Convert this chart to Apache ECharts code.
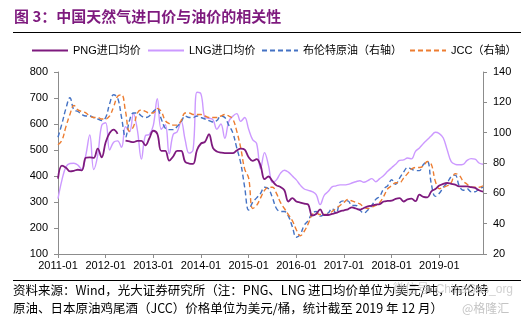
<!DOCTYPE html>
<html>
<head>
<meta charset="utf-8">
<script src="https://cdn.jsdelivr.net/npm/echarts@6/dist/echarts.min.js"></script>
<style>
html,body{margin:0;padding:0;background:#fff;}
#c{width:524px;height:324px;}
</style>
</head>
<body>
<div id="c"></div>
<script>
// ---- data ----
var titleText = '图 3：中国天然气进口价与油价的相关性';
var seriesNames = ['PNG进口均价', 'LNG进口均价', '布伦特原油（右轴）', 'JCC（右轴）'];
var startYear = 2011, endYear = 2019;
var categories = [];
for (var y = startYear; y <= endYear; y++) {
  for (var m = 1; m <= 12; m++) categories.push(y + '-' + (m < 10 ? '0' + m : m));
}
var leftTicks = [100, 200, 300, 400, 500, 600, 700, 800];
var rightTicks = [20, 40, 60, 80, 100, 120, 140];

// PNG import price (USD/t), 2011-01 .. 2019-12
var png = [
  390,440,432,418,420,424,422,470,472,470,505,472,
  530,565,578,562,null,536,533,530,535,535,518,545,
  574,562,497,497,459,475,497,497,455,448,447,500,
  525,531,561,508,494,490,488,488,488,498,505,501,
  472,458,465,440,388,398,380,364,358,345,302,315,
  302,298,294,290,248,254,272,250,250,254,258,264,
  268,272,279,275,270,277,283,286,290,292,302,304,
  305,312,315,302,310,313,303,328,320,318,341,350,
  363,370,373,370,367,360,360,360,357,354,345,340
];
// LNG import price (USD/t)
var lng = [
  313,385,435,448,449,442,425,480,558,425,480,595,
  605,500,530,535,510,590,570,640,575,465,555,560,
  595,697,580,597,485,560,570,610,540,488,500,722,
  715,625,622,617,580,600,545,610,630,640,610,625,
  580,540,525,428,490,440,375,385,410,422,415,400,
  385,365,350,345,340,328,290,325,340,358,362,366,
  366,368,373,378,382,376,382,390,378,390,402,418,
  432,445,460,462,469,466,495,508,525,540,555,568,
  563,546,500,455,445,443,445,460,467,465,450,445
];
// Brent (USD/bbl, right axis)
var brent = [
  97,106,116,123,115,114,112,111,111,110,109,108,
  110,119,125,123,110,97,108,113,113,111,110,111,
  114,116,109,103,102,102,104,107,111,110,110,111,
  110,109,108,107,108,111,110,105,100,90,80,64,
  49,54,57,60,64,63,57,50,48,48,45,38,
  31,33,39,42,47,48,45,46,47,50,47,54,
  55,55,52,52,49,47,49,52,56,58,63,65,
  69,66,70,74,77,76,75,75,79,81,66,58,
  60,64,67,71,72,65,62,63,61,61,63,64
];
// JCC (USD/bbl, right axis)
var jcc = [
  92,95,104,112,118,115,114,113,111,110,110,109,
  109,111,117,124,125,114,101,104,113,115,114,113,
  113,116,114,108,106,105,105,108,113,113,112,112,
  112,111,110,110,110,111,112,111,109,101,90,76,
  70,50,52,57,62,64,64,60,54,50,46,42,
  36,32,35,40,46,47,46,46,46,48,50,52,
  54,56,55,54,53,51,50,51,52,54,58,63,
  65,67,67,70,73,76,77,77,78,81,79,68,
  63,64,65,67,73,72,68,66,64,64,64,65
];
var colors = ['#7E1A7E', '#CC99FF', '#4472C4', '#ED7D31'];
var note1 = '资料来源：Wind，光大证券研究所（注：PNG、LNG 进口均价单位为美元/吨，布伦特';
var note2 = '原油、日本原油鸡尾酒（JCC）价格单位为美元/桶，统计截至 2019 年 12 月）';

// ---- chart ----
var FONT = '"Liberation Sans", Arial, "Noto Sans CJK SC", sans-serif';
var chart = echarts.init(document.getElementById('c'), null, {renderer: 'canvas'});
var axisGray = '#8C8C8C';
var legendLefts = [26, 142, 256, 404];
function mkLegend(i) {
  return {
    left: legendLefts[i], top: 40, itemWidth: 36, itemHeight: 10, itemGap: 8,
    itemStyle: {opacity: 0, borderWidth: 0},
    textStyle: {fontSize: 11, color: '#000', fontFamily: FONT},
    data: [seriesNames[i]]
  };
}
var option = {
  animation: false,
  backgroundColor: '#fff',
  textStyle: {fontFamily: FONT},
  grid: {left: 58, right: 41, top: 72, bottom: 70, containLabel: false},
  legend: [mkLegend(0), mkLegend(1), mkLegend(2), mkLegend(3)],
  xAxis: {
    type: 'category', data: categories, boundaryGap: false,
    axisLine: {lineStyle: {color: axisGray, width: 1}},
    axisTick: {interval: 11, length: 4, lineStyle: {color: axisGray}},
    axisLabel: {interval: 11, fontSize: 11, color: '#000', margin: 6, fontFamily: FONT},
    splitLine: {show: false}
  },
  yAxis: [{
    type: 'value', min: leftTicks[0], max: leftTicks[leftTicks.length - 1], interval: 100,
    axisLine: {show: true, lineStyle: {color: axisGray}},
    axisTick: {show: true, length: 4, lineStyle: {color: axisGray}},
    axisLabel: {fontSize: 11, color: '#000', margin: 10, fontFamily: FONT},
    splitLine: {show: false}
  }, {
    type: 'value', min: rightTicks[0], max: rightTicks[rightTicks.length - 1], interval: 20,
    position: 'right',
    axisLine: {show: true, lineStyle: {color: axisGray}},
    axisTick: {show: true, length: 4, lineStyle: {color: axisGray}},
    axisLabel: {fontSize: 11, color: '#000', margin: 10, fontFamily: FONT},
    splitLine: {show: false}
  }],
  series: [
    {name: seriesNames[0], type: 'line', data: png, yAxisIndex: 0, symbol: 'none', smooth: 0.4,
     connectNulls: false, color: colors[0], lineStyle: {color: colors[0], width: 1.8}, z: 5},
    {name: seriesNames[1], type: 'line', data: lng, yAxisIndex: 0, symbol: 'none', smooth: 0.4,
     color: colors[1], lineStyle: {color: colors[1], width: 1.4}, z: 2},
    {name: seriesNames[2], type: 'line', data: brent, yAxisIndex: 1, symbol: 'none', smooth: 0.4,
     color: colors[2], lineStyle: {color: colors[2], width: 1.4, type: [5, 3]}, z: 3},
    {name: seriesNames[3], type: 'line', data: jcc, yAxisIndex: 1, symbol: 'none', smooth: 0.4,
     color: colors[3], lineStyle: {color: colors[3], width: 1.4, type: [5, 3]}, z: 3}
  ],
  graphic: [
    {type: 'text', left: 14, top: 9, style: {text: titleText, font: 'bold 15px "Noto Sans CJK SC", sans-serif', fill: '#7E1A7E'}},
    {type: 'line', shape: {x1: 13, y1: 32.5, x2: 521, y2: 32.5}, style: {stroke: '#000', lineWidth: 1}},
    {type: 'line', shape: {x1: 13, y1: 280.5, x2: 521, y2: 280.5}, style: {stroke: '#000', lineWidth: 1}},
    {type: 'text', left: 13, top: 284, style: {text: note1, font: '12.5px "Noto Sans CJK SC", "Liberation Sans", sans-serif', fill: '#000'}},
    {type: 'text', left: 13, top: 302, style: {text: note2, font: '12.5px "Noto Sans CJK SC", "Liberation Sans", sans-serif', fill: '#000'}},
    {type: 'text', left: 393, top: 284, style: {text: '微信号: ChinaGas_org', font: '12px "Liberation Sans", "Noto Sans CJK SC", sans-serif', fill: 'rgba(200,200,200,0.85)'}},
    {type: 'text', left: 462, top: 302, style: {text: '@格隆汇', font: '12px "Noto Sans CJK SC", sans-serif', fill: 'rgba(190,190,190,0.9)'}}
  ]
};
chart.setOption(option);
</script>
</body>
</html>
